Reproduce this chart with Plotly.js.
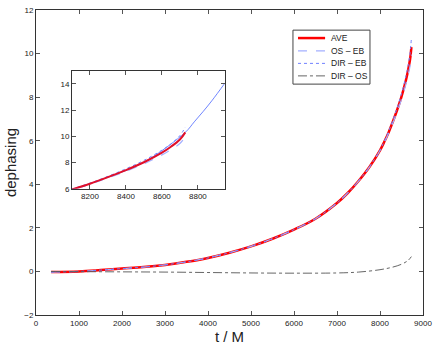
<!DOCTYPE html>
<html>
<head>
<meta charset="utf-8">
<script src="https://cdn.plot.ly/plotly-3.0.1.min.js"></script>
<style>
  html, body { margin: 0; padding: 0; background: #fff; }
  #chart { width: 436px; height: 347px; }
</style>
</head>
<body>
<div id="chart"></div>
<script>
// time samples (t / M) and dephasing values
const tAve = [350, 1000, 1500, 2000, 2500, 3000, 3500, 4000, 4500, 5000, 5500, 6000, 6500, 7000, 7250, 7500, 7750, 8000, 8100, 8200, 8300, 8400, 8500, 8600, 8650, 8700, 8730];
const ave   = [-0.03, 0.0, 0.06, 0.13, 0.2, 0.3, 0.44, 0.62, 0.86, 1.15, 1.5, 1.92, 2.42, 3.14, 3.6, 4.15, 4.78, 5.56, 5.95, 6.38, 6.88, 7.42, 8.02, 8.75, 9.2, 9.75, 10.3];
const osEb  = [-0.03, 0.0, 0.06, 0.13, 0.2, 0.3, 0.44, 0.62, 0.86, 1.15, 1.5, 1.92, 2.42, 3.14, 3.6, 4.15, 4.78, 5.55, 5.93, 6.34, 6.82, 7.33, 7.9, 8.58, 8.98, 9.45, 9.95];
const dirEb = [-0.03, 0.0, 0.06, 0.13, 0.2, 0.3, 0.44, 0.62, 0.86, 1.15, 1.5, 1.92, 2.42, 3.14, 3.6, 4.15, 4.79, 5.57, 5.98, 6.43, 6.95, 7.52, 8.16, 8.94, 9.42, 10.05, 10.7];

const tDiff = [350, 1000, 2000, 3000, 4000, 5000, 6000, 7000, 7500, 8000, 8300, 8500, 8650, 8730];
const dirOs = [0.0, -0.01, -0.02, -0.03, -0.05, -0.07, -0.08, -0.07, -0.03, 0.08, 0.2, 0.33, 0.5, 0.68];

// thin blue continuation shown only in the inset
const tExt = [8100, 8300, 8500, 8730, 8780, 8830, 8880, 8950];
const ext  = [5.95, 6.88, 8.02, 10.3, 11.1, 11.9, 12.75, 14.05];

const xTicks = [0, 1000, 2000, 3000, 4000, 5000, 6000, 7000, 8000, 9000];
const yTicks = [-2, 0, 2, 4, 6, 8, 10, 12];
const xTicksIn = [8200, 8400, 8600, 8800];
const yTicksIn = [6, 8, 10, 12, 14];

const legendNames = ['AVE', 'OS \u2013 EB', 'DIR \u2013 EB', 'DIR \u2013 OS'];

const font = 'Liberation Sans, Arial, sans-serif';

const styles = [
  {color: '#ff0000', width: 2.5, dash: 'solid'},
  {color: '#a4b0ff', width: 1.2, dash: 'dash'},
  {color: '#7080ff', width: 1, dash: 'dot'},
  {color: '#555555', width: 0.9, dash: 'dashdot'}
];

const traces = [
  {x: tAve, y: ave, name: legendNames[0], mode: 'lines', line: Object.assign({shape: 'spline'}, styles[0])},
  {x: tAve, y: osEb, name: legendNames[1], mode: 'lines', line: Object.assign({shape: 'spline'}, styles[1])},
  {x: tAve, y: dirEb, name: legendNames[2], mode: 'lines', line: Object.assign({shape: 'spline'}, styles[2])},
  {x: tDiff, y: dirOs, name: legendNames[3], mode: 'lines', line: Object.assign({shape: 'spline'}, styles[3])},
  // inset
  {x: tExt, y: ext, xaxis: 'x2', yaxis: 'y2', mode: 'lines',
   line: {color: '#4a66ff', width: 0.8, shape: 'spline'}},
  {x: tAve, y: osEb, xaxis: 'x2', yaxis: 'y2', mode: 'lines', line: Object.assign({shape: 'spline'}, styles[1])},
  {x: tAve, y: dirEb, xaxis: 'x2', yaxis: 'y2', mode: 'lines', line: Object.assign({shape: 'spline'}, styles[2])},
  {x: tAve, y: ave, xaxis: 'x2', yaxis: 'y2', mode: 'lines',
   line: {color: '#e0102a', width: 2, shape: 'spline'}}
];

const axisCommon = {
  showline: true, linecolor: '#333', linewidth: 1, mirror: 'ticks',
  ticks: 'inside', ticklen: 4, tickcolor: '#555', showgrid: false, zeroline: false,
  tickfont: {family: font, size: 8, color: '#222'}
};

// hand-drawn legend box (MATLAB style, compact rows)
const legX0 = 0.664, legX1 = 0.863, legY0 = 0.757, legY1 = 0.934;
const rowY = [0.908, 0.866, 0.825, 0.784];
const shapes = [{
  type: 'rect', xref: 'paper', yref: 'paper', x0: legX0, x1: legX1, y0: legY0, y1: legY1,
  line: {color: '#444', width: 1}, fillcolor: '#fff'
}];
const annotations = [];
legendNames.forEach((name, i) => {
  shapes.push({
    type: 'line', xref: 'paper', yref: 'paper', x0: 0.677, x1: 0.747, y0: rowY[i], y1: rowY[i],
    line: {color: styles[i].color, width: styles[i].width, dash: styles[i].dash}
  });
  annotations.push({
    xref: 'paper', yref: 'paper', x: 0.758, y: rowY[i], xanchor: 'left', yanchor: 'middle',
    text: name, showarrow: false, font: {family: font, size: 8.5, color: '#222'}
  });
});

const layout = {
  width: 436, height: 347,
  margin: {l: 36, r: 13, t: 10, b: 32},
  paper_bgcolor: '#fff', plot_bgcolor: '#fff',
  font: {family: font, color: '#222'},
  showlegend: false,
  xaxis: Object.assign({}, axisCommon, {
    range: [0, 9000], tickvals: xTicks, domain: [0, 1],
    title: {text: 't / M', font: {family: font, size: 15}, standoff: 2}
  }),
  yaxis: Object.assign({}, axisCommon, {
    range: [-2, 12], tickvals: yTicks, domain: [0, 1],
    ticktext: yTicks.map(v => v < 0 ? '\u2212' + Math.abs(v) : String(v)),
    title: {text: 'dephasing', font: {family: font, size: 15}, standoff: 4}
  }),
  xaxis2: Object.assign({}, axisCommon, {
    range: [8100, 8950], tickvals: xTicksIn, domain: [0.093, 0.488], anchor: 'y2'
  }),
  yaxis2: Object.assign({}, axisCommon, {
    range: [6, 15], tickvals: yTicksIn, domain: [0.414, 0.801], anchor: 'x2'
  }),
  shapes: shapes,
  annotations: annotations
};

Plotly.newPlot('chart', traces, layout, {displayModeBar: false, staticPlot: true});
</script>
</body>
</html>
